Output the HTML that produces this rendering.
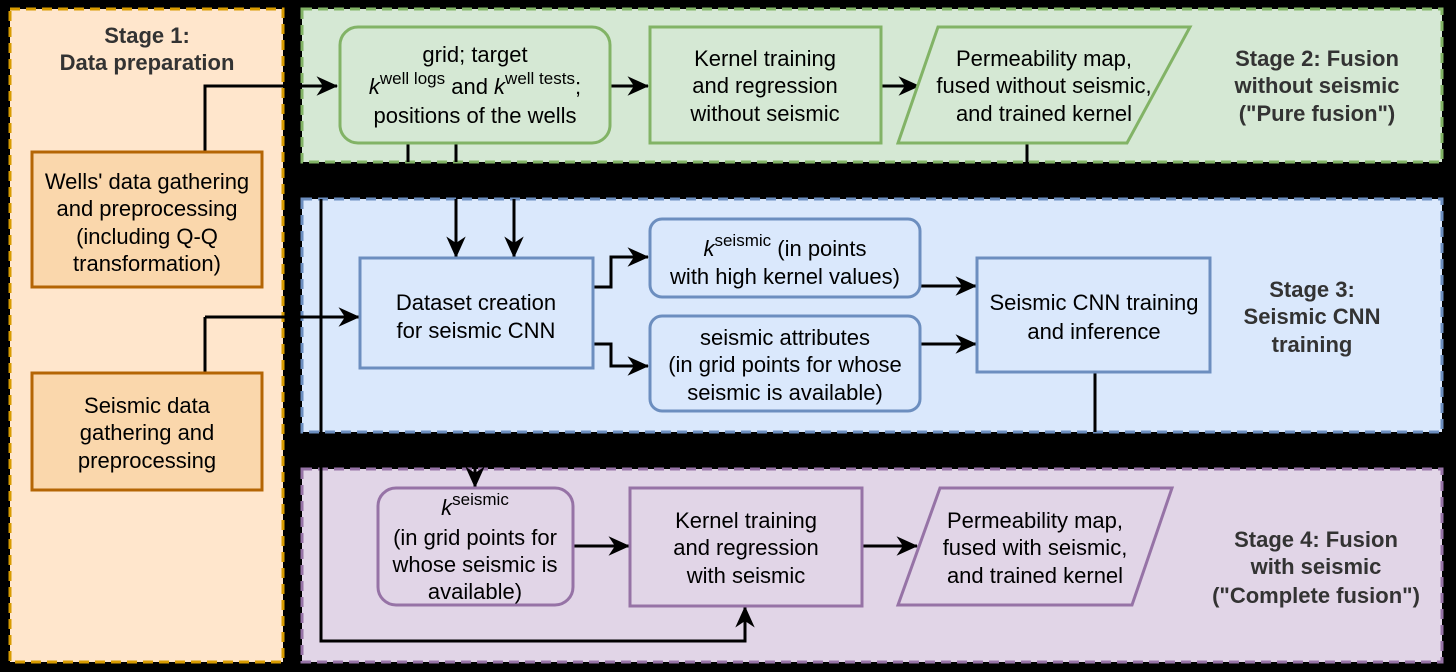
<!DOCTYPE html>
<html><head><meta charset="utf-8"><style>
html,body{margin:0;padding:0;background:#000;}
svg{display:block}
text{font-family:"Liberation Sans",sans-serif;font-size:22px;fill:#000;text-anchor:middle}
.b{font-weight:bold;fill:#333;font-size:22px}
</style></head><body>
<svg width="1456" height="672" viewBox="0 0 1456 672" xmlns="http://www.w3.org/2000/svg">
<defs>
<marker id="a" viewBox="0 0 10 10" refX="9.5" refY="5" markerWidth="7.2" markerHeight="7.2" orient="auto" markerUnits="strokeWidth"><path d="M0,0.5 L10,5 L0,9.5 L3,5 z" fill="#000"/></marker>
</defs>
<rect width="1456" height="672" fill="#000"/>
<rect x="10" y="9" width="273" height="653" fill="#ffe6cc" stroke="#d79b00" stroke-width="3" stroke-dasharray="10,6"/>
<rect x="302" y="9" width="1140" height="153" fill="#d5e8d4" stroke="#82b366" stroke-width="3" stroke-dasharray="10,6"/>
<rect x="302" y="199" width="1140" height="233" fill="#dae8fc" stroke="#6c8ebf" stroke-width="3" stroke-dasharray="10,6"/>
<rect x="302" y="469" width="1140" height="193" fill="#e1d5e7" stroke="#9673a6" stroke-width="3" stroke-dasharray="10,6"/>

<text class="b" x="147" y="43">Stage 1:</text>
<text class="b" x="147" y="70">Data preparation</text>
<text class="b" x="1317" y="66">Stage 2: Fusion</text>
<text class="b" x="1317" y="93">without seismic</text>
<text class="b" x="1317" y="121">("Pure fusion")</text>
<text class="b" x="1312" y="297">Stage 3:</text>
<text class="b" x="1312" y="324">Seismic CNN</text>
<text class="b" x="1312" y="352">training</text>
<text class="b" x="1316" y="547">Stage 4: Fusion</text>
<text class="b" x="1316" y="574">with seismic</text>
<text class="b" x="1316" y="603">("Complete fusion")</text>

<g stroke="#000" stroke-width="3" fill="none">
<path d="M205,152 V86 H337" marker-end="url(#a)"/>
<path d="M205,317 V373"/>
<path d="M205,317 H359" marker-end="url(#a)"/>
<path d="M610,86 H648" marker-end="url(#a)"/>
<path d="M881,86 H919" marker-end="url(#a)"/>
<path d="M408,143 V162"/>
<path d="M456,143 V162"/>
<path d="M1027,143 V162"/>
<path d="M456,199 V257" marker-end="url(#a)"/>
<path d="M514,199 V257" marker-end="url(#a)"/>
<path d="M321,199 V641 H745 V607" marker-end="url(#a)"/>
<path d="M593,287 H611 V257 H648" marker-end="url(#a)"/>
<path d="M593,344 H611 V366 H648" marker-end="url(#a)"/>
<path d="M920,286 H976" marker-end="url(#a)"/>
<path d="M920,344 H976" marker-end="url(#a)"/>
<path d="M1095,372 V432"/>
<path d="M475,466 V487" marker-end="url(#a)"/>
<path d="M573,546 H629" marker-end="url(#a)"/>
<path d="M862,546 H917" marker-end="url(#a)"/>
</g>

<rect x="32" y="152" width="230" height="135" fill="#fad7ac" stroke="#b46504" stroke-width="3"/>
<text x="147" y="189">Wells' data gathering</text>
<text x="147" y="216">and preprocessing</text>
<text x="147" y="244">(including Q-Q</text>
<text x="147" y="271">transformation)</text>
<rect x="32" y="373" width="230" height="117" fill="#fad7ac" stroke="#b46504" stroke-width="3"/>
<text x="147" y="413">Seismic data</text>
<text x="147" y="440">gathering and</text>
<text x="147" y="468">preprocessing</text>

<rect x="340" y="27" width="270" height="116" rx="18" fill="#d5e8d4" stroke="#82b366" stroke-width="3"/>
<text x="475" y="62">grid; target</text>
<text x="475" y="94"><tspan font-style="italic">k</tspan><tspan dy="-10" font-size="17">well logs</tspan><tspan dy="10"> and </tspan><tspan font-style="italic">k</tspan><tspan dy="-10" font-size="17">well tests</tspan><tspan dy="10">;</tspan></text>
<text x="475" y="123">positions of the wells</text>
<rect x="650" y="27" width="231" height="116" fill="#d5e8d4" stroke="#82b366" stroke-width="3"/>
<text x="765" y="66">Kernel training</text>
<text x="765" y="93">and regression</text>
<text x="765" y="121">without seismic</text>
<polygon points="938,27 1190,27 1127,143 898,143" fill="#d5e8d4" stroke="#82b366" stroke-width="3"/>
<text x="1044" y="66">Permeability map,</text>
<text x="1044" y="93">fused without seismic,</text>
<text x="1044" y="121">and trained kernel</text>

<rect x="360" y="258" width="233" height="110" fill="#dae8fc" stroke="#6c8ebf" stroke-width="3"/>
<text x="476" y="310">Dataset creation</text>
<text x="476" y="338">for seismic CNN</text>
<rect x="650" y="219" width="270" height="78" rx="12" fill="#dae8fc" stroke="#6c8ebf" stroke-width="3"/>
<text x="785" y="256"><tspan font-style="italic">k</tspan><tspan dy="-10" font-size="17">seismic</tspan><tspan dy="10"> (in points</tspan></text>
<text x="785" y="284">with high kernel values)</text>
<rect x="650" y="316" width="270" height="95" rx="12" fill="#dae8fc" stroke="#6c8ebf" stroke-width="3"/>
<text x="785" y="345">seismic attributes</text>
<text x="785" y="372">(in grid points for whose</text>
<text x="785" y="400">seismic is available)</text>
<rect x="977" y="258" width="233" height="114" fill="#dae8fc" stroke="#6c8ebf" stroke-width="3"/>
<text x="1094" y="310">Seismic CNN training</text>
<text x="1094" y="339">and inference</text>

<rect x="378" y="488" width="195" height="117" rx="18" fill="#e1d5e7" stroke="#9673a6" stroke-width="3"/>
<text x="475" y="515"><tspan font-style="italic">k</tspan><tspan dy="-10" font-size="17">seismic</tspan></text>
<text x="475" y="545">(in grid points for</text>
<text x="475" y="572">whose seismic is</text>
<text x="475" y="599">available)</text>
<rect x="630" y="488" width="232" height="118" fill="#e1d5e7" stroke="#9673a6" stroke-width="3"/>
<text x="746" y="528">Kernel training</text>
<text x="746" y="555">and regression</text>
<text x="746" y="583">with seismic</text>
<polygon points="940,488 1172,488 1132,605 898,605" fill="#e1d5e7" stroke="#9673a6" stroke-width="3"/>
<text x="1035" y="528">Permeability map,</text>
<text x="1035" y="555">fused with seismic,</text>
<text x="1035" y="583">and trained kernel</text>
</svg>
</body></html>
